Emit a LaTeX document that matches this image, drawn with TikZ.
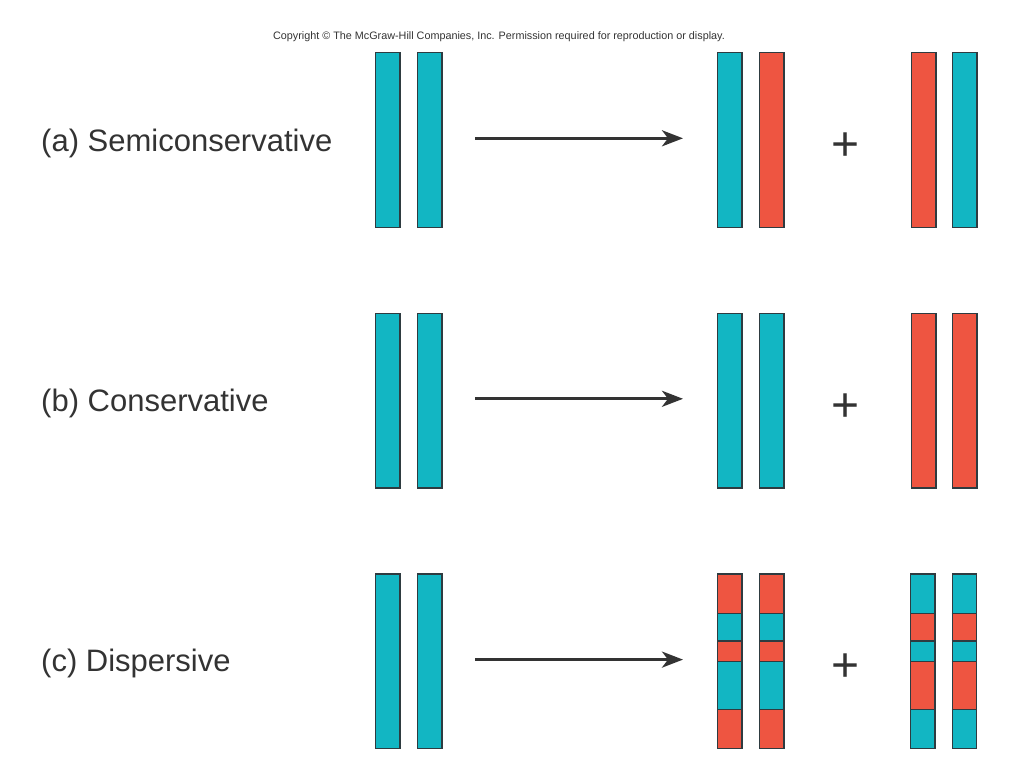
\documentclass[tikz,border=0pt]{standalone}
\usepackage{fontspec}
\setmainfont{Liberation Sans}
\usetikzlibrary{arrows.meta}
\definecolor{tealS}{HTML}{12B6C3}
\definecolor{redS}{HTML}{EE5541}
\definecolor{edgeS}{HTML}{2E3B40}
\definecolor{txtS}{HTML}{333333}
\newcommand\dispstrand[5]{% name, x, ytop, colour A, colour B
  \fill[#4] (#2,#3) rectangle ++(25.5,40);
  \fill[#5] (#2,#3+40) rectangle ++(25.5,27.5);
  \fill[#4] (#2,#3+67.5) rectangle ++(25.5,20.5);
  \fill[#5] (#2,#3+88) rectangle ++(25.5,48);
  \fill[#4] (#2,#3+136) rectangle ++(25.5,40);
  \foreach \d in {40,67.5,88,136} \draw[edgeS,line width=1.4pt] (#2,#3+\d) -- ++(25.5,0);
  \node[strand] (#1) at (#2,#3) {};
}
\begin{document}
\begin{tikzpicture}[x=1pt,y=-1pt,
  strand/.style={draw=edgeS,line width=1.4pt,rectangle,inner sep=0pt,
    minimum width=24.1pt,minimum height=174.6pt,anchor=north west},
  tstrand/.style={strand,fill=tealS},
  rstrand/.style={strand,fill=redS},
  lab/.style={anchor=base west,inner sep=0pt,text=txtS,font=\fontsize{31}{31}\selectfont},
  plussign/.style={inner sep=0pt,text=txtS,font=\fontsize{48}{48}\selectfont},
  arr/.style={draw=txtS,line width=3pt,-{Stealth[length=21pt,width=16pt,inset=6pt]}}]
\useasboundingbox (0,0) rectangle (1024,768);

\node[anchor=base,inner sep=0pt,text=txtS,font=\fontsize{10.8}{10.8}\selectfont] (copy) at (499,39.3)
  {Copyright \textcopyright{} The McGraw-Hill Companies, Inc. Permission required for reproduction or display.};

% (a) Semiconservative
\node[lab] (la) at (41,151.7) {(a) Semiconservative};
\node[tstrand] (a1) at (375,52) {};
\node[tstrand] (a2) at (417,52) {};
\node[tstrand] (a3) at (717,52) {};
\node[rstrand] (a4) at (759,52) {};
\node[rstrand] (a5) at (911,52) {};
\node[tstrand] (a6) at (952,52) {};
\coordinate (aS) at (475,138.3);
\coordinate (aE) at (683,138.3);
\draw[arr] (aS) -- (aE);
\node[plussign] (pa) at (846,147) {+};

% (b) Conservative
\node[lab] (lb) at (41,411.5) {(b) Conservative};
\node[tstrand] (b1) at (375,312.5) {};
\node[tstrand] (b2) at (417,312.5) {};
\node[tstrand] (b3) at (717,312.5) {};
\node[tstrand] (b4) at (759,312.5) {};
\node[rstrand] (b5) at (911,312.5) {};
\node[rstrand] (b6) at (952,312.5) {};
\coordinate (bS) at (475,398.8);
\coordinate (bE) at (683,398.8);
\draw[arr] (bS) -- (bE);
\node[plussign] (pb) at (846,407.5) {+};

% (c) Dispersive
\node[lab] (lc) at (41,671.5) {(c) Dispersive};
\node[tstrand] (c1) at (375,573.3) {};
\node[tstrand] (c2) at (417,573.3) {};
\dispstrand{c3}{717}{573.3}{redS}{tealS}
\dispstrand{c4}{759}{573.3}{redS}{tealS}
\dispstrand{c5}{910}{573.3}{tealS}{redS}
\dispstrand{c6}{951.5}{573.3}{tealS}{redS}
\coordinate (cS) at (475,659.6);
\coordinate (cE) at (683,659.6);
\draw[arr] (cS) -- (cE);
\node[plussign] (pc) at (846,668) {+};
\end{tikzpicture}
\end{document}
